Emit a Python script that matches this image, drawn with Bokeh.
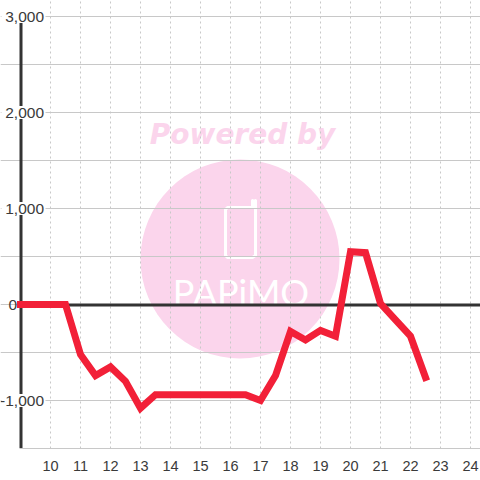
from bokeh.plotting import figure
from bokeh.models import Range1d, FixedTicker
from bokeh.core.properties import value
from bokeh.embed import file_html
from bokeh.resources import INLINE

hours = [9, 9.5, 10, 10.5, 11, 11.5, 12, 12.5, 13, 13.5, 14, 14.5, 15, 15.5, 16, 16.5, 17, 17.5, 18, 18.5, 19, 19.5, 20, 20.5, 21, 21.5, 22, 22.5]
balance = [0, 0, 0, 0, -520, -740, -650, -800, -1080, -940, -940, -940, -940, -940, -940, -940, -1000, -740, -280, -370, -270, -330, 550, 540, 10, -160, -330, -760]
x_ticks = [10, 11, 12, 13, 14, 15, 16, 17, 18, 19, 20, 21, 22, 23, 24]
y_grid = [-1500, -1000, -500, 0, 500, 1000, 1500, 2000, 2500, 3000]
y_label_values = [3000, 2000, 1000, -1000]
y_label_texts = ["3,000", "2,000", "1,000", "-1,000"]

FONT = "Liberation Sans"
TEXT = "#3a3a3a"
X0, X1 = 9.0, 24.333
p = figure(width=480, height=480, output_backend="svg", toolbar_location=None,
           x_range=Range1d(9 - 20 / 30, X1), y_range=Range1d(-1500, 3000 + 16 / 0.096),
           min_border_left=0, min_border_right=0, min_border_top=0, min_border_bottom=32,
           outline_line_color=None)
p.background_fill_color = "white"
p.border_fill_color = "white"

p.yaxis.visible = False
ax = p.xaxis[0]
ax.ticker = FixedTicker(ticks=x_ticks)
ax.bounds = (X0, X1)
ax.axis_line_color = "#c8c8c8"
ax.axis_line_width = 1
ax.major_tick_line_color = None
ax.minor_tick_line_color = None
ax.major_label_text_font = FONT
ax.major_label_text_font_size = "14.5px"
ax.major_label_text_color = TEXT
ax.major_label_standoff = 6

p.xgrid.ticker = FixedTicker(ticks=x_ticks)
p.xgrid.grid_line_color = "#c8c8c8"
p.xgrid.grid_line_dash = "2 3"
p.xgrid.bounds = (-1500, 3000)
p.ygrid.ticker = FixedTicker(ticks=y_grid)
p.ygrid.grid_line_color = "#c8c8c8"
p.ygrid.bounds = (X0, X1)

def px(v):
    return 9 + (v - 20) / 30
def py(v):
    return (304 - v) / 0.096

# watermark
pink = "#fbd5ec"
p.scatter([px(239.5)], [py(258.5)], size=199, marker="circle", fill_color=pink, line_color=None, level="image")
p.text([px(242)], [py(134)], text=["Powered by"], text_font=value("DejaVu Sans"), text_font_style="bold italic",
       text_font_size="28px", text_color=pink, text_align="center", text_baseline="middle", level="image")
phone_x = [252, 252, 255, 255, 252, 227, 225, 225, 227, 252, 255, 255, 252, 252]
phone_y = [207, 202, 200, 202, 207, 207, 209, 255, 257, 257, 255, 202, 200, 207]
p.line([px(v) for v in phone_x], [py(v) for v in phone_y], line_color="white", line_width=3,
       line_join="round", level="image")
p.text([px(240.5)], [py(291)], text=["PAPiMO"], text_font=value("Lato"), text_font_size="36px",
       text_color="white", text_align="center", text_baseline="middle", level="image")

# axes lines
p.segment([px(20)], [py(304.5)], [X1], [py(304.5)], line_color="#333333", line_width=3)
p.segment([px(20.5)], [-1500], [px(20.5)], [3000], line_color="#333333", line_width=3)

# y labels, with white plates under them
p.rect([px(23)] * len(y_label_values), y_label_values, width=44, height=13,
       width_units="screen", height_units="screen", fill_color="white", line_color=None)
p.text([px(43.5)] * len(y_label_values), [v - 10 for v in y_label_values], text=y_label_texts,
       text_font=value(FONT), text_font_size="15.5px", text_color=TEXT, text_align="right", text_baseline="middle")
p.text([px(16.5)], [-10], text=["0"], text_font=value(FONT), text_font_size="15.5px", text_color=TEXT,
       text_align="right", text_baseline="middle")

# series
p.line(hours, balance, line_color="#f22038", line_width=7, line_join="miter", line_cap="square")

open("out.html", "w").write(file_html(p, INLINE))
